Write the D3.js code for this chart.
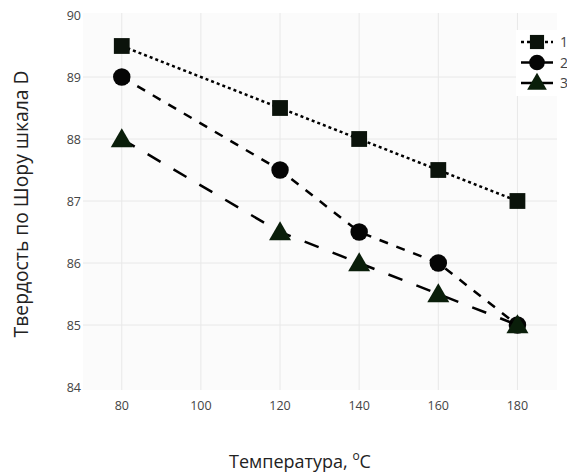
<!DOCTYPE html>
<html><head><meta charset="utf-8">
<script src="https://cdn.jsdelivr.net/npm/d3@7/dist/d3.min.js"></script>
<style>body{margin:0;background:#fff}svg{display:block}</style>
</head><body><svg id="c" width="567" height="475"></svg>
<script>
const temps = [80, 120, 140, 160, 180];
const series1 = [89.5, 88.5, 88, 87.5, 87];
const series2 = [89, 87.5, 86.5, 86, 85];
const series3 = [88, 86.5, 86, 85.5, 85];
const seriesNames = ["1", "2", "3"];
const xTicks = [80, 100, 120, 140, 160, 180];
const yTicks = [84, 85, 86, 87, 88, 89, 90];

const svg = d3.select("#c");
const L = 83, R = 557, T = 15, B = 390;
const x = d3.scaleLinear().domain([70.2, 190]).range([L, R]);
const y = d3.scaleLinear().domain([84, 90]).range([387, 15]);
const font = "'Open Sans', sans-serif";

svg.append("rect").attr("x", L).attr("y", 13).attr("width", R - L).attr("height", B - 13).attr("fill", "#fbfbfb");

const gx = svg.append("g");
gx.selectAll("line").data(xTicks).join("line")
  .attr("x1", d => x(d)).attr("x2", d => x(d)).attr("y1", 13).attr("y2", B)
  .attr("stroke", "#e8e8e8").attr("stroke-width", 1);
const gy = svg.append("g");
gy.selectAll("line").data(yTicks.filter(d => d > 84 && d < 90)).join("line")
  .attr("x1", L).attr("x2", R).attr("y1", d => y(d)).attr("y2", d => y(d))
  .attr("stroke", "#e8e8e8").attr("stroke-width", 1);

svg.append("g").selectAll("text").data(xTicks).join("text")
  .attr("x", d => x(d)).attr("y", 410).attr("text-anchor", "middle")
  .attr("font-family", font).attr("font-size", 12.5).attr("fill", "#444").text(d => d);
svg.append("g").selectAll("text").data(yTicks).join("text")
  .attr("x", 81).attr("y", d => y(d) + 4.5).attr("text-anchor", "end")
  .attr("font-family", font).attr("font-size", 12.5).attr("fill", "#444").text(d => d);

svg.append("text").attr("x", 300).attr("y", 468).attr("text-anchor", "middle")
  .attr("font-family", font).attr("font-size", 18).attr("fill", "#222")
  .html('Температура, <tspan baseline-shift="super" font-size="12">o</tspan>C');
svg.append("text").attr("transform", "translate(28,204) rotate(-90)").attr("text-anchor", "middle")
  .attr("font-family", font).attr("font-size", 19.3).attr("fill", "#222")
  .text("Твердость по Шору шкала D");

const styles = [
  {vals: series1, dash: "3,3", sym: d3.symbolSquare, size: 250, fill: "#0b130b"},
  {vals: series2, dash: "9,9", sym: d3.symbolCircle, size: 240, fill: "#050505"},
  {vals: series3, dash: "15,15", sym: d3.symbolTriangle, size: 210, fill: "#0a1e0a"}
];
const line = d3.line().x(d => x(d[0])).y(d => y(d[1]));
styles.forEach(s => {
  const pts = temps.map((t, i) => [t, s.vals[i]]);
  svg.append("path").attr("d", line(pts)).attr("fill", "none")
    .attr("stroke", "#000").attr("stroke-width", 2.5).attr("stroke-dasharray", s.dash);
  svg.append("g").selectAll("path").data(pts).join("path")
    .attr("transform", d => `translate(${x(d[0])},${y(d[1]) + (s.sym === d3.symbolTriangle ? 2 : 0)})`)
    .attr("d", d3.symbol().type(s.sym).size(s.size)).attr("fill", s.fill);
});

// legend
const lg = svg.append("g");
lg.append("rect").attr("x", 516).attr("y", 30).attr("width", 51).attr("height", 66).attr("fill", "#fff");
styles.forEach((s, i) => {
  const ly = 42 + i * 20.5;
  lg.append("line").attr("x1", 521).attr("x2", 553).attr("y1", ly).attr("y2", ly)
    .attr("stroke", "#000").attr("stroke-width", 2.5).attr("stroke-dasharray", i === 0 ? "3,3" : null);
  lg.append("path").attr("transform", `translate(537,${ly + (i === 2 ? 1 : 0)})`)
    .attr("d", d3.symbol().type(s.sym).size(s.size * 0.8)).attr("fill", s.fill);
  lg.append("text").attr("x", 560).attr("y", ly + 5).attr("font-family", font)
    .attr("font-size", 14).attr("fill", "#444").text(seriesNames[i]);
});
</script></body></html>
